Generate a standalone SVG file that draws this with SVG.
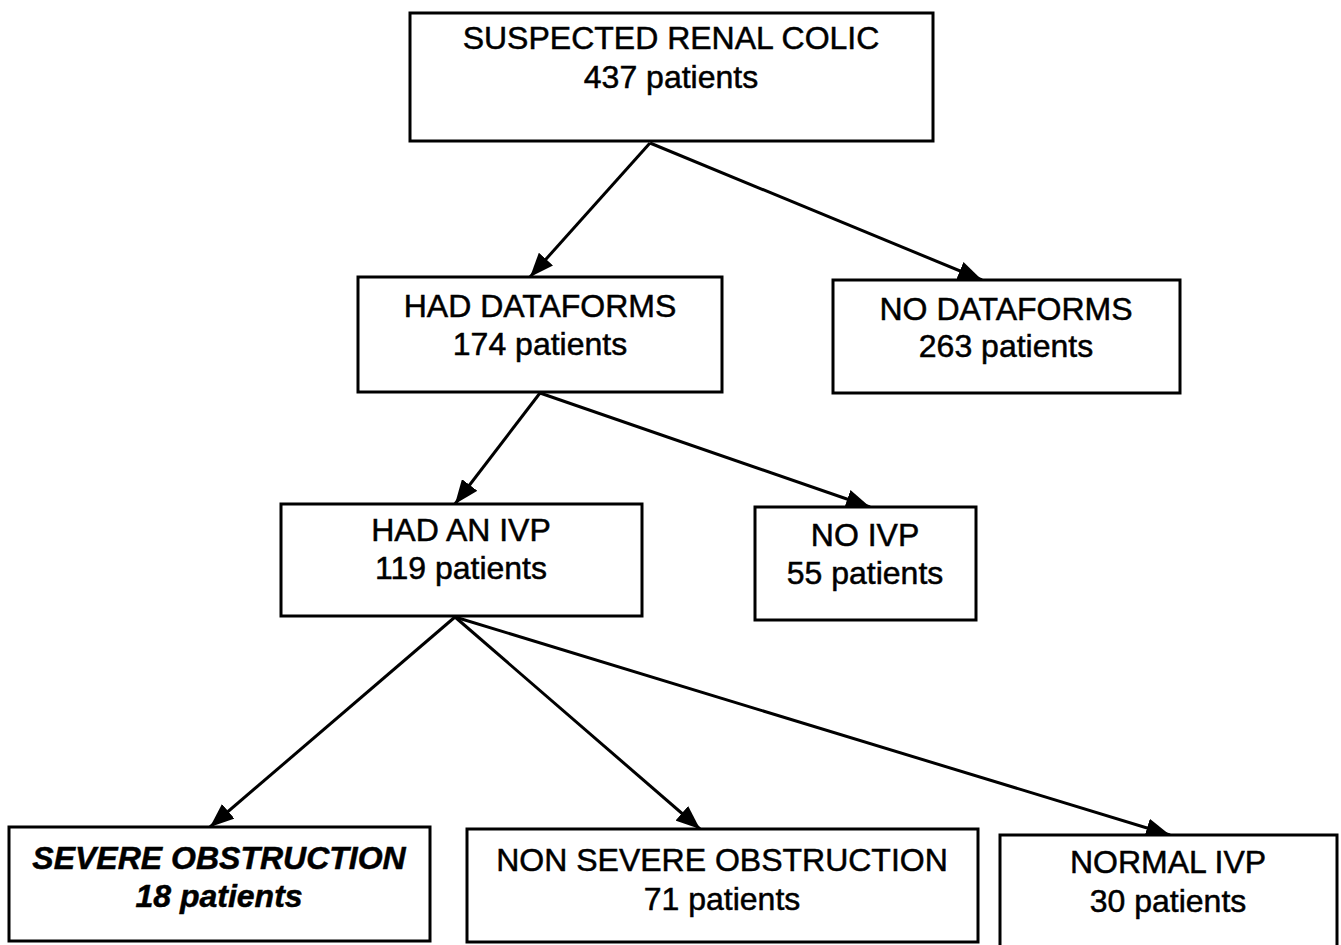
<svg xmlns="http://www.w3.org/2000/svg" width="1341" height="945" viewBox="0 0 1341 945">
  <defs>
    <style>
      .box { fill: #ffffff; stroke: #000000; stroke-width: 3; }
      .lbl { font-family: "Liberation Sans", Arial, sans-serif; font-size: 32px; fill: #000000; stroke: #000000; stroke-width: 0.5; text-anchor: middle; }
      .em { font-weight: bold; font-style: italic; }
      .edge { fill: none; stroke: #000000; stroke-width: 3; marker-end: url(#head); }
    </style>
    <marker id="head" viewBox="0 0 10 8" refX="10" refY="4" markerWidth="8" markerHeight="6.4" markerUnits="strokeWidth" orient="auto">
      <path d="M0,0 L10,4 L0,8 z" fill="#000000"/>
    </marker>
  </defs>
  <rect width="1341" height="945" fill="#ffffff"/>

  <g id="connectors">
    <line class="edge" x1="650" y1="143" x2="530" y2="277"/>
    <line class="edge" x1="650" y1="143" x2="982" y2="280"/>
    <line class="edge" x1="540" y1="393" x2="455" y2="504"/>
    <line class="edge" x1="540" y1="393" x2="870" y2="507"/>
    <line class="edge" x1="455" y1="617" x2="210" y2="827"/>
    <line class="edge" x1="455" y1="617" x2="700" y2="829"/>
    <line class="edge" x1="455" y1="617" x2="1170" y2="835"/>
  </g>

  <g id="suspected">
    <rect class="box" x="410" y="13" width="523" height="128"/>
    <text class="lbl" x="671" y="49">SUSPECTED RENAL COLIC</text>
    <text class="lbl" x="671" y="88">437 patients</text>
  </g>

  <g id="had-dataforms">
    <rect class="box" x="358" y="277" width="364" height="115"/>
    <text class="lbl" x="540" y="317">HAD DATAFORMS</text>
    <text class="lbl" x="540" y="355">174 patients</text>
  </g>

  <g id="no-dataforms">
    <rect class="box" x="833" y="280" width="347" height="113"/>
    <text class="lbl" x="1006" y="320">NO DATAFORMS</text>
    <text class="lbl" x="1006" y="357">263 patients</text>
  </g>

  <g id="had-ivp">
    <rect class="box" x="281" y="504" width="361" height="112"/>
    <text class="lbl" x="461" y="541">HAD AN IVP</text>
    <text class="lbl" x="461" y="579">119 patients</text>
  </g>

  <g id="no-ivp">
    <rect class="box" x="755" y="507" width="221" height="113"/>
    <text class="lbl" x="865" y="546">NO IVP</text>
    <text class="lbl" x="865" y="584">55 patients</text>
  </g>

  <g id="severe">
    <rect class="box" x="9" y="827" width="421" height="114"/>
    <text class="lbl em" x="219" y="869">SEVERE OBSTRUCTION</text>
    <text class="lbl em" x="219" y="907">18 patients</text>
  </g>

  <g id="non-severe">
    <rect class="box" x="467" y="829" width="511" height="113"/>
    <text class="lbl" x="722" y="871">NON SEVERE OBSTRUCTION</text>
    <text class="lbl" x="722" y="910">71 patients</text>
  </g>

  <g id="normal-ivp">
    <rect class="box" x="1000" y="835" width="337" height="112"/>
    <text class="lbl" x="1168" y="873">NORMAL IVP</text>
    <text class="lbl" x="1168" y="912">30 patients</text>
  </g>
</svg>
